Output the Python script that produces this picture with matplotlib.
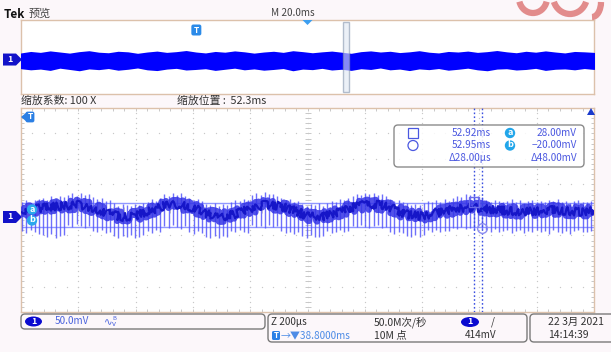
import numpy as np
import matplotlib
matplotlib.use("Agg")
import matplotlib.pyplot as plt
from matplotlib.patches import FancyBboxPatch, Polygon, Ellipse, Arc, Rectangle
from matplotlib.transforms import IdentityTransform

plt.rcParams['font.family'] = ['Noto Sans CJK SC', 'DejaVu Sans']

# ---------------- acquisition settings ----------------
volts_per_div_mV = 50.0
record_span_ms = 200.0            # 20.0 ms/div, 10 div
trigger_to_center_ms = 38.8
zoom_factor = 100
zoom_center_ms = 52.34
ch1_center_mV = 13.7              # screen centre relative to ground (offset)

# cursors
cursor_a_ms, cursor_b_ms = 52.92, 52.948
cursor_a_mV, cursor_b_mV = 28.0, -20.0

# zoomed trace: slow ripple (core of the trace), one value every 50 us
ripple_mV = [10, 16, 20, 22, 24, 18, 8, 0, 2, 12, 22, 24, 18, 6, 0, 6, 16, 24, 22,
             14, 2, 0, 8, 18, 24, 24, 16, 4, 2, 8, 14, 18, 18, 14, 12, 10, 12, 14,
             12, 10, 12]
ripple_step_ms = 0.05

# switching spikes riding on the ripple: upper / lower extent of each one (mV)
spike_period_ms = 0.0146
spike_first_ms = 0.004
spike_top_mV = [30, 34, 28, 33, 36,
                38, 33, 41, 36, 42, 39,
                44, 48, 41, 47, 43, 45,
                40, 35, 37, 31, 34,
                27, 22, 26, 24, 21, 25, 23, 28,
                30, 35, 32, 37,
                45, 41, 47, 44, 48, 42,
                38, 34, 36, 31,
                26, 23, 27, 22, 25, 24,
                29, 33, 31, 36, 34,
                43, 47, 44, 49, 45, 46, 41,
                37, 33, 35, 30, 32,
                26, 22, 25, 23, 27, 21,
                28, 32, 30, 35, 33, 37,
                42, 46, 44, 48, 45, 47, 43, 46, 41,
                36, 32, 34, 30,
                27, 24, 26, 23, 28,
                31, 29, 33, 30, 35, 32,
                38, 42, 40, 45, 43, 46, 41, 39,
                33, 30, 34, 31, 29, 32, 35, 30, 33, 28, 31, 34, 30, 32, 29, 33,
                31, 35, 30, 32, 28, 31, 33, 30, 29, 32]
spike_bot_mV = [-27, -31, -25, -30, -33,
                -36, -40, -34, -41, -38, -35,
                -16, -20, -14, -18, -22, -17,
                -27, -30, -26, -32, -29,
                -38, -42, -37, -40, -36, -41, -39, -35,
                -28, -31, -26, -30,
                -17, -21, -15, -19, -23, -18,
                -29, -33, -28, -31,
                -39, -42, -37, -41, -38, -40,
                -27, -30, -25, -29, -32,
                -15, -19, -17, -21, -16, -20, -18,
                -28, -32, -30, -34, -29,
                -38, -41, -36, -40, -39, -37,
                -27, -31, -29, -25, -30, -28,
                -17, -20, -15, -19, -22, -18, -16, -21, -19,
                -29, -33, -30, -32,
                -37, -40, -35, -39, -36,
                -26, -29, -25, -30, -27, -28,
                -21, -24, -19, -23, -22, -25, -20, -24,
                -26, -29, -24, -30, -27, -25, -31, -28, -26, -32, -27, -29, -25,
                -30, -28, -33, -26, -29, -31, -27, -34, -28, -26, -30, -29, -27]

# overview (peak-detect) envelope of the full record
prev_top_mV = [30, 38, 33, 41, 35, 29, 37, 42, 34, 31, 39, 36, 28, 35, 40, 33, 37, 43,
               35, 30, 38, 34, 41, 36, 29, 35, 39, 33, 42, 37, 31, 36, 40, 34, 28, 37,
               41, 35, 39, 32, 36, 42, 34, 30, 38, 35, 40, 33, 37, 43, 36, 31, 39, 34,
               41, 35, 30, 38, 36, 33]
prev_bot_mV = [-44, -50, -46, -53, -41, -48, -55, -45, -49, -43, -52, -47, -40, -50,
               -54, -46, -42, -51, -48, -44, -53, -47, -41, -50, -45, -52, -48, -43,
               -55, -46, -49, -42, -51, -47, -53, -44, -48, -40, -50, -46, -54, -45,
               -49, -43, -52, -47, -41, -50, -55, -46, -44, -51, -48, -42, -53, -47,
               -45, -50, -43, -48]

# ---------------- figure ----------------
W, H = 611, 352
BG = '#fcf7fa'
BORDER = '#dcc1ab'
fig = plt.figure(figsize=(W / 100, H / 100), dpi=100, facecolor=BG)
ID = IdentityTransform()


def D(x, y):
    """pixel position measured from the top-left corner -> display coords"""
    return (x, H - y)


def txt(x, y, s, size=7.0, color='#333333', ha='left', va='center', zorder=11, **kw):
    fig.text(x / W, 1 - y / H, s, fontsize=size, color=color, ha=ha, va=va,
             zorder=zorder, **kw)


def badge_circle(x, y, s, fc, r=5.5, size=6.5):
    fig.add_artist(Ellipse(D(x, y), 2 * r, 2 * r, transform=ID, facecolor=fc,
                           edgecolor='none', zorder=10))
    txt(x, y - 0.5, s, size=size, color='white', ha='center', weight='bold', zorder=12)


prev_left, prev_top_px, prev_w, prev_h = 21, 20, 573, 74
main_left, main_top_px, main_w, main_h = 21, 108, 573, 204

ax_prev = fig.add_axes([prev_left / W, 1 - (prev_top_px + prev_h) / H, prev_w / W, prev_h / H])
ax = fig.add_axes([main_left / W, 1 - (main_top_px + main_h) / H, main_w / W, main_h / H])

ylim = (ch1_center_mV - 4 * volts_per_div_mV, ch1_center_mV + 4 * volts_per_div_mV)

for a in (ax_prev, ax):
    a.set_facecolor('white')
    a.set_xticks([])
    a.set_yticks([])
    for sp in a.spines.values():
        sp.set_color(BORDER)
        sp.set_linewidth(1.0)
    a.set_ylim(*ylim)

# ---------------- overview ----------------
p0 = -(record_span_ms / 2 - trigger_to_center_ms)
p1 = p0 + record_span_ms
ax_prev.set_xlim(p0, p1)
pt = np.linspace(p0, p1, len(prev_top_mV))
band = ax_prev.fill_between(pt, prev_bot_mV, prev_top_mV, color='#0000ff', lw=1.5,
                            edgecolor='#0000ff', zorder=3)
band.set_sketch_params(scale=1.2, length=3, randomness=6)
zoom_w = record_span_ms / zoom_factor
ax_prev.add_patch(Rectangle((zoom_center_ms - zoom_w / 2, ylim[0] + 10), zoom_w,
                            ylim[1] - ylim[0] - 20, facecolor='#dfe6f2', alpha=0.6,
                            edgecolor='#8595ad', lw=1.0, zorder=4))

# ---------------- zoomed graticule ----------------
x0 = zoom_center_ms - zoom_w / 2
x1 = zoom_center_ms + zoom_w / 2
ax.set_xlim(x0, x1)
xdiv = zoom_w / 10
GRID = '#c8c8c8'
xmin_ticks = x0 + xdiv / 5 * np.arange(51)
ymin_ticks = ylim[0] + volts_per_div_mV / 5 * np.arange(41)
for i in range(1, 10):
    xv = x0 + i * xdiv
    ax.scatter(np.full_like(ymin_ticks, xv), ymin_ticks, s=0.9, color=GRID, lw=0, zorder=1)
for j in range(1, 8):
    yv = ylim[0] + j * volts_per_div_mV
    ax.scatter(xmin_ticks, np.full_like(xmin_ticks, yv), s=0.9, color=GRID, lw=0, zorder=1)
# centre cross ticks
ax.plot(np.full_like(ymin_ticks, zoom_center_ms), ymin_ticks, ls='none', marker='_',
        ms=4, mew=0.7, color=GRID, zorder=1)
ax.plot(xmin_ticks, np.full_like(xmin_ticks, ch1_center_mV), ls='none', marker='|',
        ms=4, mew=0.7, color=GRID, zorder=1)
# edge ticks
for yv in ylim:
    ax.plot(xmin_ticks, np.full_like(xmin_ticks, yv), ls='none', marker='|', ms=5,
            mew=0.7, color=GRID, zorder=1)
for xv in (x0, x1):
    ax.plot(np.full_like(ymin_ticks, xv), ymin_ticks, ls='none', marker='_', ms=5,
            mew=0.7, color=GRID, zorder=1)

# horizontal cursor bars
for yv in (cursor_a_mV, cursor_b_mV):
    ax.axhline(yv, color='#9098ff', lw=1.0, zorder=2)

# trace: spikes underneath, then a jagged dense core following the ripple
st = x0 + spike_first_ms + spike_period_ms * np.arange(len(spike_top_mV))
ax.vlines(st, spike_bot_mV, spike_top_mV, color='#5557fb', lw=1.0, alpha=0.85, zorder=3)
rt = x0 + ripple_step_ms * np.arange(len(ripple_mV))
core = ax.plot(rt, ripple_mV, color='#3434e6', lw=4.5, alpha=0.85,
               solid_capstyle='butt', zorder=4)[0]
core.set_sketch_params(scale=5, length=3, randomness=10)
core2 = ax.plot(rt, ripple_mV, color='#1616c8', lw=1.6, solid_capstyle='butt', zorder=5)[0]
core2.set_sketch_params(scale=4, length=2.5, randomness=12)

# vertical cursors
for xv in (cursor_a_ms, cursor_b_ms):
    ax.axvline(xv, color='#3a4fe0', lw=1.0, ls=(0, (1.2, 1.6)), zorder=6)
ax.plot([cursor_a_ms], [cursor_a_mV + 2], marker='s', ms=6.5, mfc='none',
        mec='#6b6bea', mew=1.0, zorder=7)
ax.plot([cursor_b_ms], [cursor_b_mV - 2], marker='o', ms=7, mfc='none',
        mec='#8c8cf0', mew=1.0, zorder=7)


def data_px(a, x, y):
    dx, dy = a.transData.transform((x, y))
    return dx, H - dy


# ---------------- markers ----------------
# channel 1 ground markers
for a in (ax_prev, ax):
    _, gy = data_px(a, 0, 0)
    fig.add_artist(Polygon([D(3, gy - 6), D(16, gy - 6), D(22, gy), D(16, gy + 6),
                            D(3, gy + 6)], closed=True, transform=ID,
                           facecolor='#1212c8', edgecolor='none', zorder=10))
    txt(10, gy - 0.5, '1', size=6.5, color='white', ha='center', weight='bold', zorder=12)

# cursor labels at the left edge
badge_circle(32, 209.5, 'a', '#2aa8ec', r=5.2, size=6.5)
badge_circle(32, 220.5, 'b', '#2aa8ec', r=5.2, size=6.5)

# trigger markers
tx, _ = data_px(ax_prev, 0, 0)
fig.add_artist(FancyBboxPatch(D(tx - 4.5, 35), 9, 10, boxstyle='round,pad=0.5,rounding_size=2',
                              transform=ID, facecolor='#2b8ae8', edgecolor='none', zorder=10))
txt(tx, 30.5, 'T', size=6, color='white', ha='center', weight='bold', zorder=12)
fig.add_artist(FancyBboxPatch(D(26, 122), 8, 10, boxstyle='round,pad=0.4,rounding_size=2',
                              transform=ID, facecolor='#2b7fe4', edgecolor='none', zorder=10))
fig.add_artist(Polygon([D(21, 117), D(27, 112), D(27, 122)], closed=True, transform=ID,
                       facecolor='#2b7fe4', edgecolor='none', zorder=10))
txt(30, 116.5, 'T', size=6, color='white', ha='center', weight='bold', zorder=12)

# horizontal-position marker in the overview
cx, _ = data_px(ax_prev, trigger_to_center_ms, 0)
fig.add_artist(Polygon([D(cx - 5, 20), D(cx + 5, 20), D(cx, 25)], closed=True,
                       transform=ID, facecolor='#3d9ff0', edgecolor='none', zorder=10))

# reference indicator at the top right of the graticule
fig.add_artist(Polygon([D(587, 115), D(595, 115), D(591, 108)], closed=True, transform=ID,
                       facecolor='#1a3acc', edgecolor='none', zorder=10))

# ---------------- header texts ----------------
txt(4, 14, 'Tek', size=8.5, color='#111111', weight='bold')
txt(29, 14, '预览', size=8, color='#444444')
txt(271, 13, 'M 20.0ms', size=7.2, color='#444444')
txt(21, 101, '缩放系数: 100 X', size=7.8, color='#333333')
txt(177, 101, '缩放位置 :  52.3ms', size=7.8, color='#333333')

# ---------------- cursor readout ----------------
fig.add_artist(FancyBboxPatch(D(394, 167), 190, 42, boxstyle='round,pad=0,rounding_size=4',
                              transform=ID, facecolor='white', alpha=0.85,
                              edgecolor='#777777', lw=1.0, zorder=8))
RC = '#4b58e0'
fig.add_artist(Rectangle(D(408, 138), 10, 10, transform=ID, facecolor='none',
                         edgecolor=RC, lw=0.9, zorder=9))
fig.add_artist(Ellipse(D(413, 145.5), 10, 10, transform=ID, facecolor='none',
                       edgecolor=RC, lw=0.9, zorder=9))
txt(491, 133, f'{cursor_a_ms:.2f}ms', size=7.2, color=RC, ha='right')
txt(491, 145.5, f'{cursor_b_ms:.2f}ms', size=7.2, color=RC, ha='right')
txt(491, 158.5, f'Δ{(cursor_b_ms - cursor_a_ms) * 1000:.2f}μs', size=7.2, color=RC,
    ha='right')
badge_circle(510, 133, 'a', '#22a6ea', r=5.2)
badge_circle(510, 145.5, 'b', '#22a6ea', r=5.2)
txt(577, 133, f'{cursor_a_mV:.2f}mV', size=7.2, color=RC, ha='right')
txt(577, 145.5, f'{cursor_b_mV:.2f}mV'.replace('-', '−'), size=7.2, color=RC, ha='right')
txt(577, 158.5, f'Δ{cursor_a_mV - cursor_b_mV:.2f}mV', size=7.2, color=RC, ha='right')

# ---------------- status bar ----------------
def box(x, y, w, h):
    fig.add_artist(FancyBboxPatch(D(x, y + h), w, h,
                                  boxstyle='round,pad=0,rounding_size=4', transform=ID,
                                  facecolor=BG, edgecolor='#7a7a7a', lw=1.0, zorder=8))


box(21, 314, 244, 15)
box(268, 314, 259, 28)
box(530, 314, 90, 28)

fig.add_artist(Ellipse(D(33.5, 321.5), 17, 10, transform=ID, facecolor='#0a0ad0',
                       edgecolor='none', zorder=10))
txt(33.5, 321, '1', size=6.5, color='white', ha='center', weight='bold', zorder=12)
txt(55, 321.5, '50.0mV', size=7.2, color='#4a63dd')
txt(104, 322, '∿', size=7.5, color='#4a63dd', family='DejaVu Sans')
txt(112, 318.5, 'B', size=4.2, color='#4a63dd')
txt(112, 323.5, 'v', size=5.5, color='#4a63dd')

txt(271, 322, 'Z 200μs', size=7.2, color='#333333')
fig.add_artist(FancyBboxPatch(D(272, 340), 8, 9, boxstyle='round,pad=0,rounding_size=1.5',
                              transform=ID, facecolor='#2b80e6', edgecolor='none', zorder=10))
txt(276, 335.5, 'T', size=5.8, color='white', ha='center', weight='bold', zorder=12)
txt(280.5, 335.5, f'→▼{trigger_to_center_ms:.4f}ms', size=7.2, color='#4d8ce6')
txt(374, 322, '50.0M次/秒', size=7.5, color='#333333')
txt(374, 335.5, '10M 点', size=7.5, color='#333333')
fig.add_artist(Ellipse(D(470, 322), 18, 10, transform=ID, facecolor='#0a0ad0',
                       edgecolor='none', zorder=10))
txt(470, 321.5, '1', size=6.5, color='white', ha='center', weight='bold', zorder=12)
txt(491, 321.5, '/', size=7.2, color='#333333')
txt(465, 335.5, '414mV', size=7.2, color='#333333')
txt(548, 322, '22 3月 2021', size=7.5, color='#333333')
txt(548, 335.5, '14:14:39', size=7.5, color='#333333')

# logo fragment at the top right corner
PINK = '#e28c8c'
fig.add_artist(Arc(D(533, -2), 28, 30, theta1=195, theta2=345, transform=ID,
                   color=PINK, lw=4.5, zorder=12))
fig.add_artist(Arc(D(570, -4), 34, 36, theta1=200, theta2=340, transform=ID,
                   color=PINK, lw=4.5, zorder=12))
fig.add_artist(Arc(D(592, 2), 18, 30, theta1=270, theta2=360, transform=ID,
                   color=PINK, lw=4.5, zorder=12))

fig.savefig('out.png', dpi=100, facecolor=BG)
